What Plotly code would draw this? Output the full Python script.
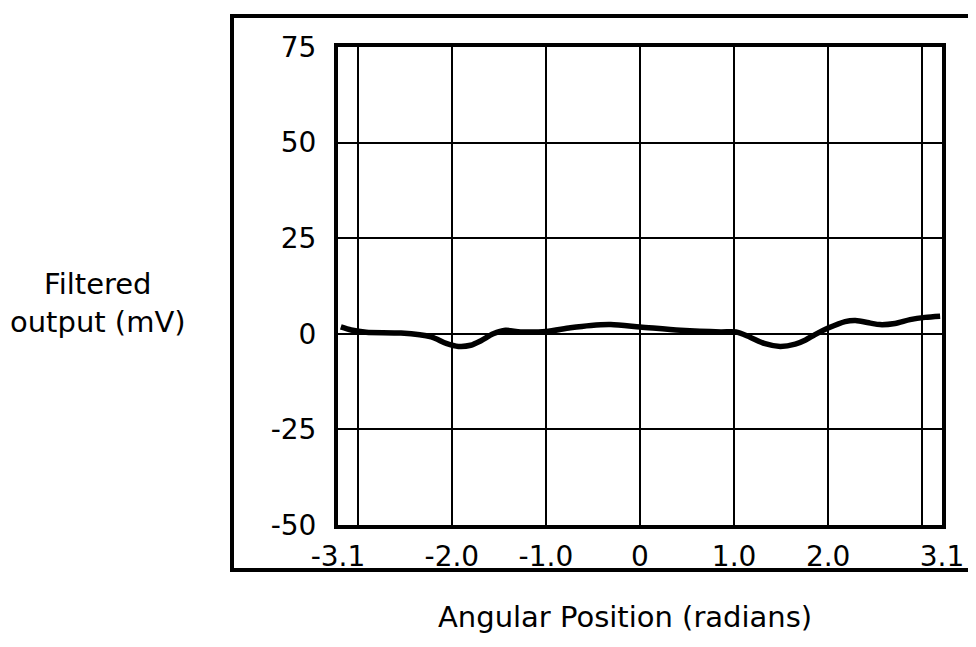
import plotly.graph_objects as go

# ---- data ----
angle = [-3.18, -3.07, -2.91, -2.54, -2.22, -2.06, -1.93, -1.80, -1.69, -1.56,
         -1.43, -1.27, -1.00, -0.74, -0.52, -0.31, 0.00, 0.43, 0.86, 1.02,
         1.17, 1.33, 1.49, 1.65, 1.76, 1.86, 2.00, 2.18, 2.29, 2.45,
         2.55, 2.71, 2.87, 3.03, 3.19]
output_mv = [1.8, 1.0, 0.4, 0.2, -0.8, -2.5, -3.3, -3.0, -1.8, 0.0,
             0.9, 0.5, 0.6, 1.6, 2.2, 2.4, 1.8, 0.9, 0.5, 0.5,
             -0.9, -2.6, -3.3, -2.7, -1.6, -0.2, 1.5, 3.2, 3.5, 2.8,
             2.4, 2.7, 3.7, 4.3, 4.6]

x_tickvals = [-3.21, -2.0, -1.0, 0.0, 1.0, 2.0, 3.21]
x_ticktext = ["-3.1", "-2.0", "-1.0", "0", "1.0", "2.0", "3.1"]
x_extra_grid = [-3.0, 3.0]
y_tickvals = [-50, -25, 0, 25, 50, 75]
y_ticktext = ["-50", "-25", "0", "25", "50", "75"]

# page body has an 8px margin: work in reference pixels and shift
OFF = 8
W, H = 976 - 2 * OFF, 647 - 2 * OFF
L, R, T, B = 338 - OFF, 942 - OFF, 47 - OFF, 525 - OFF  # plot area


def px(x):
    return (x - OFF - L) / (R - L)


def py(y):
    return (B - (y - OFF)) / (B - T)


FONT = "DejaVu Sans"

fig = go.Figure()
fig.add_trace(go.Scatter(
    x=angle, y=output_mv, mode="lines",
    line=dict(color="black", width=5.5, shape="spline", smoothing=0.8),
    hoverinfo="skip", showlegend=False,
))

fig.update_layout(
    width=W, height=H,
    margin=dict(l=L, r=W - R, t=T, b=H - B, autoexpand=False),
    paper_bgcolor="white", plot_bgcolor="white",
    font=dict(family=FONT, size=28, color="black"),
    showlegend=False,
    xaxis=dict(
        range=[-3.21, 3.21], tickmode="array", tickvals=x_tickvals, ticktext=x_ticktext,
        showgrid=True, gridcolor="black", gridwidth=2, zeroline=False,
        showline=True, linecolor="black", linewidth=4, mirror=True,
        ticks="", ticklabelstandoff=3, automargin=False,
        minor=dict(tickmode="array", tickvals=x_extra_grid, showgrid=True,
                   gridcolor="black", gridwidth=2, ticks=""),
        tickfont=dict(family=FONT, size=28),
    ),
    yaxis=dict(
        range=[-50, 75], tickmode="array", tickvals=y_tickvals, ticktext=y_ticktext,
        showgrid=True, gridcolor="black", gridwidth=2, zeroline=False,
        showline=True, linecolor="black", linewidth=4, mirror=True,
        ticks="", ticklabelstandoff=12, automargin=False,
        tickfont=dict(family=FONT, size=28),
    ),
    shapes=[dict(
        type="rect", xref="paper", yref="paper",
        x0=px(232), x1=px(972), y0=py(570), y1=py(16),
        line=dict(color="black", width=4), fillcolor="rgba(0,0,0,0)",
    )],
    annotations=[
        dict(text="Filtered<br>output (mV)", xref="paper", yref="paper",
             x=px(98), y=py(303), xanchor="center", yanchor="middle",
             showarrow=False, align="center", font=dict(family=FONT, size=29)),
        dict(text="Angular Position (radians)", xref="paper", yref="paper",
             x=px(625), y=py(617), xanchor="center", yanchor="middle",
             showarrow=False, font=dict(family=FONT, size=29)),
    ],
)

fig.write_html("out.html")
